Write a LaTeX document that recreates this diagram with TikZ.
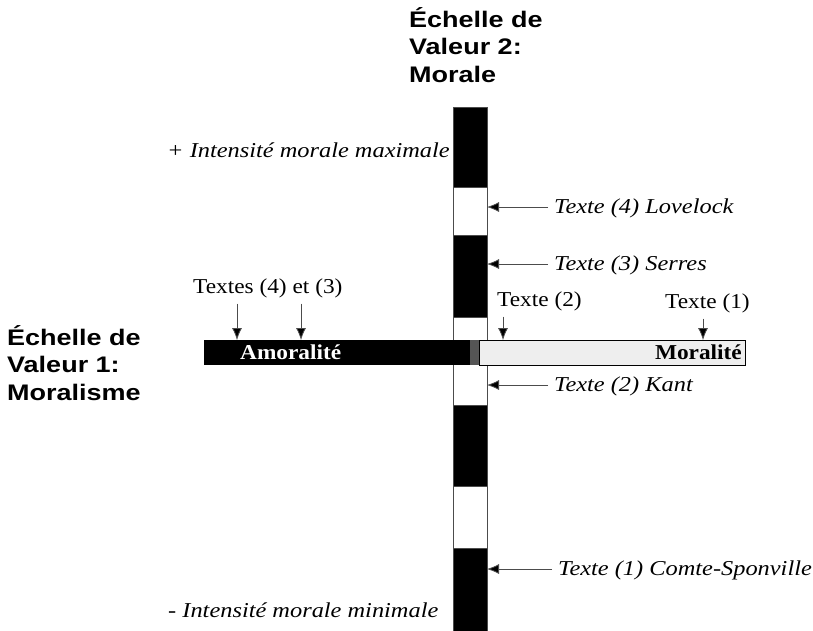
\documentclass[tikz,border=0pt]{standalone}
\usepackage{fontspec}
\setmainfont[FakeStretch=1.1, ItalicFeatures={FakeStretch=1.15}]{Liberation Serif}
\newfontfamily\headfont[FakeStretch=1.2]{Liberation Sans}
\usetikzlibrary{arrows.meta,
	calc,
	positioning}
\definecolor{lightbar}{HTML}{EEEEEE}
\definecolor{midbar}{HTML}{555555}
\newcommand{\txtsize}{\fontsize{21.2}{24}\selectfont}
\tikzset{
	pointer/.style={draw=black!70, line width=0.8pt, -{Latex[length=12pt,width=10pt,fill=black]}, shorten <=5pt},
	heading/.style={font=\headfont\bfseries\fontsize{22.5}{27.5}\selectfont, align=left, inner sep=0pt},
	txt/.style={font=\txtsize, inner sep=1pt},
	ital/.style={font=\txtsize\itshape, inner sep=1pt},
	bartxt/.style={font=\txtsize\bfseries, inner sep=0pt}
}

\begin{document}
\begin{tikzpicture}[x=1pt,y=-1pt]
	\useasboundingbox (0,0) rectangle (813,630);
	% vertical scale
	\foreach \ya/\yb/\c in {107/187/black,187/235/white,235/317/black,317/405/white,405/486/black,486/548/white,548/640/black} {
		\draw[draw=black!70, line width=0.8pt, fill=\c] (453,\ya) rectangle (487,\yb);
	}
	% horizontal scale
	\fill (204,340) rectangle (470,365);
	\fill[midbar] (470,340) rectangle (479,365);
	\draw[line width=0.8pt, fill=lightbar] (479,340) rectangle (745,365);
	\node[bartxt, text=white, anchor=base west] (amoral) at (240,359) {Amoralité};
	\node[bartxt, anchor=base east] (moral) at (742,359) {Moralité};

	\node[heading, anchor=north west] (scaletwo) at (409,7) {Échelle de\\Valeur 2:\\Morale};
	\node[heading, anchor=north west] (scaleone) at (7,325) {Échelle de\\Valeur 1:\\Moralisme};

	\node[ital, anchor=base west] (maxi) at (166,157) {+ Intensité morale maximale};
	\node[ital, anchor=base west] (mini) at (167,617) {- Intensité morale minimale};

	% texts on the vertical scale
	\coordinate (lovelockpt) at (487,207);
	\coordinate (serrespt) at (487,264);
	\coordinate (kantpt) at (487,385);
	\coordinate (comtept) at (487,569);
	\node[ital, anchor=west] (lovelock) at (553,208) {Texte (4) Lovelock};
	\node[ital, anchor=west] (serres) at (553,265) {Texte (3) Serres};
	\node[ital, anchor=west] (kant) at (553,386) {Texte (2) Kant};
	\node[ital, anchor=west] (comte) at (557,570) {Texte (1) Comte-Sponville};
	\draw[pointer] (lovelock.west |- lovelockpt) -- (lovelockpt);
	\draw[pointer] (serres.west |- serrespt) -- (serrespt);
	\draw[pointer] (kant.west |- kantpt) -- (kantpt);
	\draw[pointer] (comte.west |- comtept) -- (comtept);

	% texts on the horizontal scale
	\coordinate (fourpt) at (237,340);
	\coordinate (threept) at (301,340);
	\coordinate (twopt) at (503,340);
	\coordinate (onept) at (703,340);
	\node[txt, anchor=base west] (fourthree) at (192,293) {Textes (4) et (3)};
	\node[txt, anchor=base west] (two) at (496,306) {Texte (2)};
	\node[txt, anchor=base west] (one) at (664,308) {Texte (1)};
	\draw[pointer] (fourthree.south -| fourpt) -- (fourpt);
	\draw[pointer] (fourthree.south -| threept) -- (threept);
	\draw[pointer] (two.south -| twopt) -- (twopt);
	\draw[pointer] (one.south -| onept) -- (onept);
\end{tikzpicture}
\end{document}
